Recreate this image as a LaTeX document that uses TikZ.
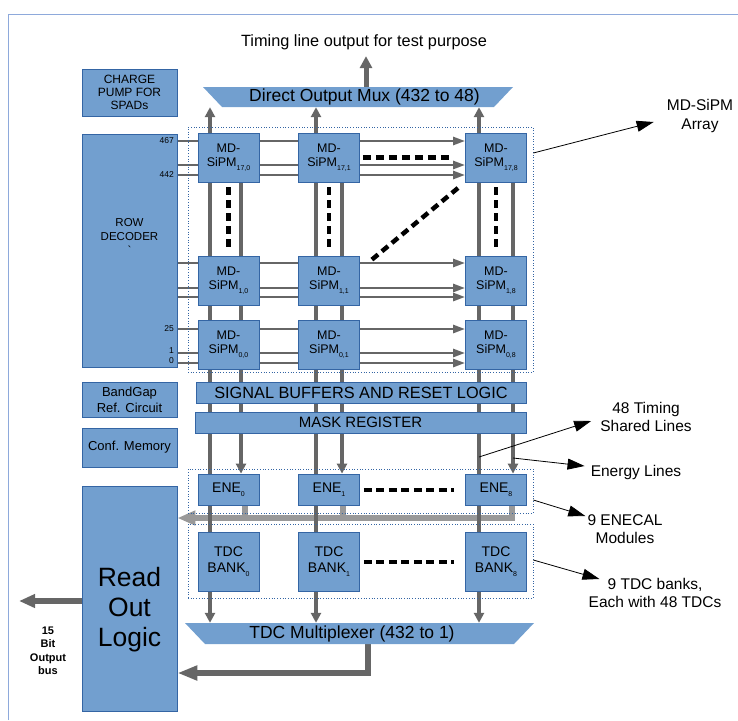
\documentclass[tikz,border=0pt]{standalone}
\usepackage{fontspec}
\setmainfont{Liberation Sans}
\usetikzlibrary{arrows.meta, backgrounds}
\definecolor{boxFill}{HTML}{729FCF}
\definecolor{boxLine}{HTML}{3465A4}
\definecolor{wireGray}{HTML}{666666}
\definecolor{busGray}{HTML}{999999}
\definecolor{frameBlue}{HTML}{8EA9DB}
\newcommand{\subidx}[1]{\raisebox{-4pt}{\fontsize{7}{8}\selectfont #1}}

\begin{document}
\begin{tikzpicture}[x=1pt, y=-1pt,
    blk/.style={draw=boxLine, line width=0.8pt, fill=boxFill, inner sep=1pt, align=center},
    sipm/.style={blk, minimum width=61pt, minimum height=49pt, font=\fontsize{12.5}{14.5}\selectfont},
    sidebox/.style={blk, minimum width=95pt},
    bandbox/.style={blk, minimum height=21pt},
    enebox/.style={blk, minimum width=61pt, minimum height=31pt, font=\fontsize{14}{16}\selectfont},
    tdcbox/.style={blk, minimum width=61pt, minimum height=59pt, font=\fontsize{14}{16}\selectfont},
    muxshape/.style={inner sep=0pt, path picture={\fill[boxFill] (path picture bounding box.north west)
        -- (path picture bounding box.north east) -- ([xshift=-#1]path picture bounding box.south east)
        -- ([xshift=#1]path picture bounding box.south west) -- cycle;}},
    dotbox/.style={draw=boxLine, dotted, line width=0.7pt, inner sep=0pt},
    rowlbl/.style={font=\fontsize{8.5}{10}\selectfont, inner sep=0pt, anchor=east},
    note/.style={font=\fontsize{15.5}{18.5}\selectfont, align=center, inner sep=1pt},
    rowwire/.style={wireGray, line width=2.5pt, -{Triangle[length=12pt,width=8pt]}},
    colwire/.style={wireGray, line width=4pt, -{Triangle[length=10pt,width=10pt]}},
    buswire/.style={busGray, line width=6pt},
    bigwire/.style={wireGray, line width=6pt},
    notewire/.style={black, line width=0.8pt, -{Triangle[length=17pt,width=11pt]}},
    blackdash/.style={black, line width=4.5pt, dash pattern=on 8pt off 5pt}
]
\useasboundingbox (0,0) rectangle (738,720);

% side blocks
\node[sidebox, minimum height=47pt, font=\fontsize{12}{13}\selectfont] (pump) at (129.5,92.5) {CHARGE\\PUMP FOR\\SPADs};
\node[sidebox, minimum height=233pt] (rowdec) at (129.5,250.5) {};
\node[font=\fontsize{11.5}{14}\selectfont, align=center] (rowtxt) at (129.5,236) {ROW\\DECODER\\\textasciigrave};
\node[sidebox, minimum height=35pt, font=\fontsize{13}{16}\selectfont] (bandgap) at (129.5,399.5) {BandGap\\Ref. Circuit};
\node[sidebox, minimum height=39pt, font=\fontsize{13}{16}\selectfont] (confmem) at (129.5,447.5) {Conf. Memory};
\node[sidebox, minimum height=225pt] (rol) at (129.5,598.5) {};
\node[font=\fontsize{26.5}{30}\selectfont, align=center] (roltxt) at (129.5,610) {Read\\Out\\Logic};
\foreach \lbl/\y in {467/141, 442/175, 25/329, 1/351, 0/361}
    \node[rowlbl] (rl\lbl) at (174,\y) {\lbl};

% frames
\node[dotbox, minimum width=345pt, minimum height=245pt] (arr) at (360.5,249.5) {};
\node[dotbox, minimum width=345pt, minimum height=44pt] (eneframe) at (360.5,491) {};
\node[dotbox, minimum width=345pt, minimum height=74pt] (tdcframe) at (360.5,561) {};

% muxes and bands
\node[font=\fontsize{16.3}{19}\selectfont] (title) at (364,42) {Timing line output for test purpose};
\node[muxshape=19pt, minimum width=310pt, minimum height=20pt, font=\fontsize{17.5}{19}\selectfont] (dmux) at (358,97) {\hspace*{13pt}Direct Output Mux (432 to 48)};
\node[bandbox, minimum width=330pt, font=\fontsize{16.3}{18}\selectfont] (sigbuf) at (361,392.5) {SIGNAL BUFFERS AND RESET LOGIC};
\node[bandbox, minimum width=331pt, font=\fontsize{15}{16}\selectfont] (mask) at (360.5,422.5) {MASK REGISTER};
\node[muxshape=20pt, minimum width=349pt, minimum height=21pt, font=\fontsize{17.5}{19}\selectfont] (tmux) at (359.5,633.5) {TDC Multiplexer (432 to 1)\hspace*{15pt}};

% columns
\foreach \c/\cx in {0/228.5, 1/329, 8/496} {
    \node[sipm] (sipm17-\c) at (\cx,157.5) {MD-\\SiPM\subidx{17,\c}};
    \node[sipm] (sipm1-\c) at (\cx,280.5) {MD-\\SiPM\subidx{1,\c}};
    \node[sipm] (sipm0-\c) at (\cx,344.5) {MD-\\SiPM\subidx{0,\c}};
    \node[enebox] (ene\c) at (\cx,489.5) {ENE\subidx{\c}};
    \node[tdcbox] (tdc\c) at (\cx,561.5) {TDC\\BANK\subidx{\c}};
}

% notes
\node[note] (arrlbl) at (700,116) {MD-SiPM\\Array};
\node[note] (timlbl) at (646,417) {48 Timing\\Shared Lines};
\node[note] (enlbl) at (636,472) {Energy Lines};
\node[note] (enelbl) at (625,529) {9 ENECAL\\Modules};
\node[note] (tdclbl) at (655,593) {9 TDC banks,\\Each with 48 TDCs};
\node[font=\bfseries\fontsize{11}{13.5}\selectfont, align=center] (buslbl) at (48,651) {15\\Bit\\Output\\bus};
\coordinate (busout) at (19,601);
\coordinate (busy) at (0,518);

\begin{scope}[on background layer]
    \draw[frameBlue, line width=1pt] (8,720) -- (8,14) -- (738,14);
    \foreach \rw/\y in {17/141, 17/165, 17/175, 1/263, 1/288, 1/297, 0/329, 0/353, 0/363}
        \draw[rowwire] (rowdec.east |- 0,\y) -- (sipm\rw-8.west |- 0,\y);
    % energy bus
    \draw[buswire, -{Triangle[length=18pt,width=14pt]}] (512,0 |- ene8.south) |- (rol.east |- busy);
    \foreach \c/\xl/\xr/\xe in {0/210/241/245, 1/316/342/343, 8/479/513/512} {
        \coordinate (L\c) at (\xl,0);
        \coordinate (R\c) at (\xr,0);
        \draw[buswire] (\xe,0 |- ene\c.south) -- (\xe,0 |- busy);
        \draw[colwire] (L\c |- tdc\c.south) -- (L\c |- dmux.south);
        \draw[colwire] (L\c |- tdc\c.south) -- (L\c |- tmux.north);
        \draw[colwire] (R\c |- sipm17-\c.south) -- (R\c |- ene\c.north);
    }
    \draw[bigwire, -{Triangle[length=20pt,width=14pt]}] (368,0 |- tmux.south) |- (rol.east |- 0,673);
    \draw[bigwire, -{Triangle[length=16pt,width=13pt]}] (rol.west |- busout) -- (busout);
    \draw[wireGray, line width=5pt, -{Triangle[length=12pt,width=12pt]}, shorten >=3pt] (366,0 |- dmux.north) -- (366,0 |- title.south);
\end{scope}

% dashed continuation marks
\foreach \c in {0,1,8}
    \draw[blackdash, shorten <=5pt, shorten >=6pt] (sipm17-\c.south) -- (sipm1-\c.north);
\draw[blackdash, shorten <=3pt, shorten >=12pt] (sipm17-1.east) -- (sipm17-8.west);
\draw[blackdash] ([shift={(12pt,-4pt)}]sipm1-1.north east) -- ([shift={(-4pt,-3pt)}]sipm17-8.south west);
\draw[blackdash, line width=4pt, dash pattern=on 8pt off 4.5pt, shorten <=4pt, shorten >=11pt] (ene1.east) -- (ene8.west);
\draw[blackdash, line width=4pt, dash pattern=on 8pt off 4.5pt, shorten <=4pt, shorten >=11pt] (tdc1.east) -- (tdc8.west);

% pointers
\draw[notewire] (arr.east |- 0,153) -- ([shift={(-12pt,-6pt)}]arrlbl.west);
\draw[notewire] (L8 |- 0,457) -- ([shift={(-8pt,-4pt)}]timlbl.west);
\draw[notewire] (R8 |- 0,458) -- ([shift={(-5pt,6pt)}]enlbl.west);
\draw[notewire] (eneframe.east |- 0,500) -- ([shift={(-1pt,13pt)}]enelbl.west);
\draw[notewire] (tdcframe.east |- 0,560) -- ([shift={(12pt,14pt)}]tdclbl.west);
\end{tikzpicture}
\end{document}
